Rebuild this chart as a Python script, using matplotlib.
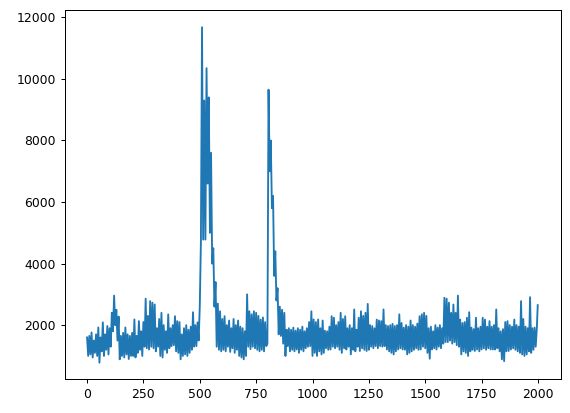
import numpy as np
import matplotlib
matplotlib.use('Agg')
import matplotlib.pyplot as plt

# ------------------
# series, one sample every 5 steps (0 .. 1995), plus last sample at 1999
step = 5
values = [
  # 0 - 95
  1600, 1000, 1650, 1050, 1760, 950, 1500, 1100, 1700, 1000,
  1925, 780, 1600, 1150, 2090, 1000, 1700, 1200, 1970, 1050,
  # 100 - 195
  1900, 1300, 2400, 1800, 2960, 2000, 2500, 1500, 2280, 890,
  1650, 1000, 1750, 950, 1925, 1050, 1700, 900, 1650, 1000,
  # 200 - 295
  1750, 1000, 2185, 950, 1650, 1100, 2130, 1200, 1800, 1000,
  2100, 1300, 2860, 1250, 2300, 1210, 2780, 1300, 2730, 1250,
  # 300 - 395
  2670, 1150, 1900, 1300, 2200, 1000, 2400, 950, 2000, 1200,
  1800, 1100, 2350, 1250, 1900, 1320, 2000, 1350, 2290, 1150,
  # 400 - 495
  2130, 1100, 2100, 890, 1700, 1000, 1900, 1050, 2000, 1000,
  1850, 1100, 1950, 1200, 2420, 1300, 2000, 1320, 2090, 1500,
  # 500 - 595
  2600, 4700, 11680, 4780, 9300, 4780, 10350, 6600, 9400, 5000,
  7600, 4000, 4500, 2600, 3400, 1300, 2700, 1200, 2450, 1150,
  # 600 - 695
  2200, 1200, 2290, 1150, 2000, 1300, 2150, 1130, 1900, 1250,
  2200, 1100, 2000, 1200, 2150, 1000, 1950, 950, 1900, 890,
  # 700 - 795
  1800, 1000, 3000, 1300, 2450, 1220, 2350, 1300, 2450, 1250,
  2400, 1200, 2300, 1150, 2180, 1200, 2250, 1150, 2100, 1320,
  # 800 - 895
  1400, 9650, 7000, 8000, 5800, 6200, 3600, 4400, 2800, 3200,
  1700, 2600, 1650, 2500, 1400, 2400, 1000, 1850, 1320, 1900,
  # 900 - 995
  1150, 1850, 1200, 1920, 1150, 1820, 1210, 1900, 1100, 1850,
  1200, 1950, 1150, 1800, 1250, 1900, 1300, 2100, 1320, 2450,
  # 1000 - 1095
  1000, 2185, 1100, 2100, 1000, 2185, 1150, 1900, 1050, 2150,
  1100, 1820, 1250, 1800, 1200, 1950, 1210, 2290, 1300, 2240,
  # 1100 - 1195
  1250, 2000, 1300, 2100, 1200, 2400, 1100, 2200, 1250, 2290,
  1210, 1900, 1300, 2000, 1050, 1900, 1200, 2510, 1150, 1850,
  # 1200 - 1295
  1300, 2240, 1160, 2450, 1250, 2300, 1200, 2400, 1160, 2690,
  1200, 2000, 1300, 1970, 1250, 1900, 1320, 2180, 1250, 2150,
  # 1300 - 1395
  1320, 2130, 1300, 2510, 1320, 2000, 1210, 1970, 1150, 2000,
  1100, 2040, 1050, 1970, 1150, 2000, 1210, 2350, 1250, 2070,
  # 1400 - 1495
  1210, 1920, 1200, 2000, 1050, 1950, 1100, 2150, 1150, 2000,
  1200, 1950, 1250, 2050, 1200, 2290, 1210, 2350, 1300, 2400,
  # 1500 - 1595
  1250, 2300, 1100, 1900, 910, 1950, 1210, 1800, 1250, 2000,
  1210, 1920, 1300, 2000, 1250, 1900, 1400, 2890, 1450, 2860,
  # 1600 - 1695
  1450, 2730, 1500, 2400, 1400, 2670, 1450, 2400, 1350, 2960,
  1300, 2180, 1050, 2070, 1150, 2100, 1100, 2240, 1000, 2420,
  # 1700 - 1795
  1150, 1920, 1200, 1870, 1160, 2240, 1210, 1900, 1150, 1950,
  1210, 2240, 1250, 2180, 1200, 1950, 1250, 2130, 1210, 1950,
  # 1800 - 1895
  1210, 2000, 1210, 2510, 1250, 1900, 1150, 1800, 890, 1870,
  830, 2100, 1150, 2130, 1160, 2000, 1210, 1950, 1250, 2180,
  # 1900 - 1995
  1200, 2000, 1150, 1950, 1100, 2780, 1050, 2200, 1000, 1950,
  1050, 1900, 1150, 2910, 1100, 1900, 1200, 1920, 1300, 1900,
]
last_index = 1999
last_value = 2650

x_ticks = [0, 250, 500, 750, 1000, 1250, 1500, 1750, 2000]
y_ticks = [2000, 4000, 6000, 8000, 10000, 12000]

# ------------------
t = np.append(np.arange(len(values)) * step, last_index)
y = np.append(np.array(values, dtype=float), last_value)

W, H = 570, 413
dpi = 89.0625
fig = plt.figure(figsize=(W / dpi, H / dpi), dpi=dpi)

# axes box in pixels: left 64, right 560, top 10, bottom 379
ax = fig.add_axes([64.5 / W, (H - 379) / H, (560.5 - 64.5) / W, (379 - 10) / H])
ax.plot(t, y, color='#1f77b4', linewidth=1.5)

ax.set_xticks(x_ticks)
ax.set_yticks(y_ticks)
ax.set_xlim(-100, 2100)
ax.set_ylim(250, 12240)

fig.savefig('out.png', dpi=dpi)
